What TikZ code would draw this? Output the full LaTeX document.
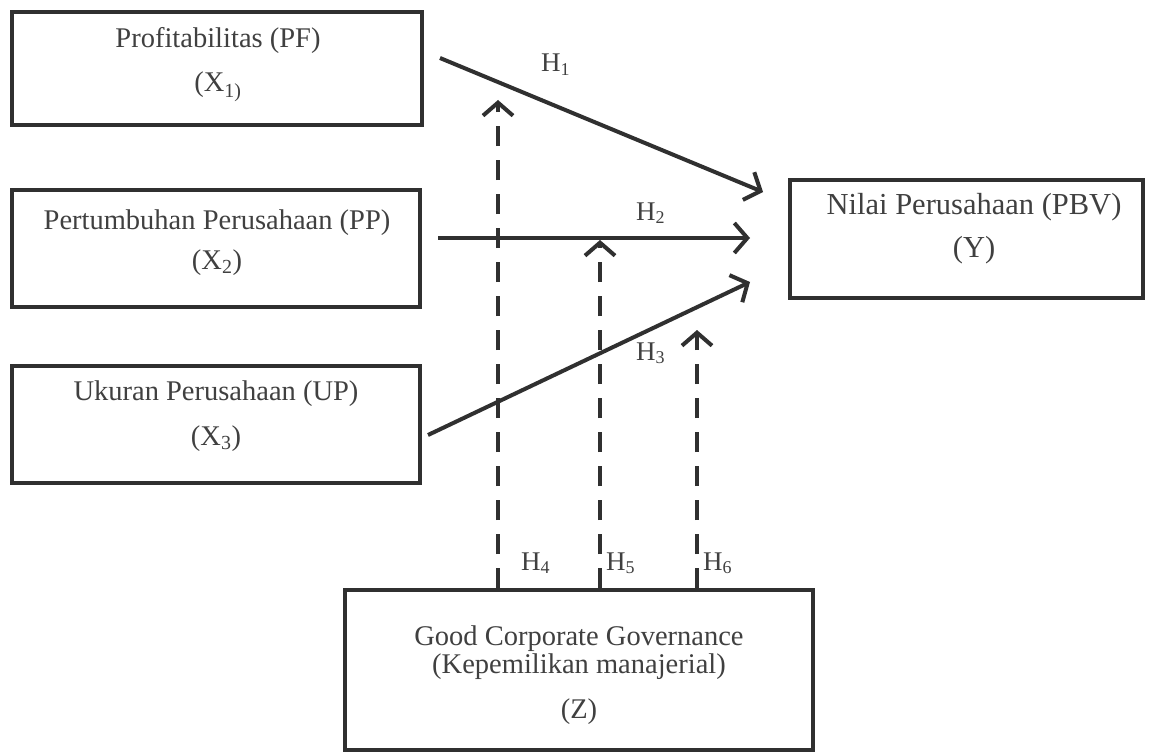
\documentclass[tikz,border=0pt]{standalone}
\usepackage{fontspec}
\setmainfont{Liberation Serif}
\usetikzlibrary{arrows.meta,calc}
\definecolor{ink}{HTML}{303030}
\definecolor{txt}{HTML}{404040}
\newcommand{\hsub}[1]{\raisebox{-3.5pt}{\fontsize{18}{20}\selectfont #1}}
\begin{document}
\begin{tikzpicture}[x=1pt,y=-1pt,
  box/.style={draw=ink, line width=3.8pt, inner sep=0pt},
  lbl/.style={anchor=base, text=txt, font=\fontsize{28.5}{32}\selectfont, inner sep=0pt},
  hl/.style={anchor=base west, text=txt, font=\fontsize{27}{30}\selectfont, inner sep=0pt},
  arr/.style={draw=ink, line width=4pt, -{Straight Barb[length=13pt,width=30pt]}},
  darr/.style={arr, dash pattern=on 20pt off 14pt}]
\useasboundingbox[fill=white] (0,0) rectangle (1150,754);

% boxes
\node[box, minimum width=410pt, minimum height=113pt] (pf) at (217,68.5) {};
\node[box, minimum width=408pt, minimum height=117pt] (pp) at (216,248.5) {};
\node[box, minimum width=408pt, minimum height=117pt] (up) at (216,424.5) {};
\node[box, minimum width=353pt, minimum height=118pt] (yb) at (966.5,239) {};
\node[box, minimum width=468pt, minimum height=160pt] (zb) at (579,670) {};

% box texts
\node[lbl] (pf1) at (218,48) {Profitabilitas (PF)};
\node[lbl] (pf2) at (218,92) {(X\textsubscript{1)}};
\node[lbl] (pp1) at (217,229) {Pertumbuhan Perusahaan (PP)};
\node[lbl] (pp2) at (217,269) {(X\textsubscript{2})};
\node[lbl] (up1) at (216,400) {Ukuran Perusahaan (UP)};
\node[lbl] (up2) at (216,445) {(X\textsubscript{3})};
\node[lbl, font=\fontsize{30.5}{34}\selectfont] (y1) at (974,214) {Nilai Perusahaan (PBV)};
\node[lbl, font=\fontsize{30.5}{34}\selectfont] (y2) at (974,257) {(Y)};
\node[lbl] (z1) at (579,645) {Good Corporate Governance};
\node[lbl] (z2) at (579,673) {(Kepemilikan manajerial)};
\node[lbl] (z3) at (579,718) {(Z)};

% connector end points
\coordinate (h1s) at (440,58);
\coordinate (h1e) at (763,192);
\coordinate (h2s) at (438,238);
\coordinate (h2e) at (750,238);
\coordinate (h3s) at (428,435);
\coordinate (h3e) at (750,282);
\coordinate (d4e) at (498,100);
\coordinate (d5e) at (600,240);
\coordinate (d6e) at (697,330);

% dashed moderation arrows
\draw[darr] (zb.north -| d4e) -- (d4e);
\draw[darr] (zb.north -| d5e) -- (d5e);
\draw[darr] (zb.north -| d6e) -- (d6e);

% direct arrows
\draw[arr] (h1s) -- (h1e);
\draw[arr] (h2s) -- (h2e);
\draw[arr] (h3s) -- (h3e);

% hypothesis labels
\node[hl] (H1) at (541,72) {H\hsub{1}};
\node[hl] (H2) at (636,220) {H\hsub{2}};
\node[hl] (H3) at (636,360) {H\hsub{3}};
\node[hl] (H4) at (521,570) {H\hsub{4}};
\node[hl] (H5) at (606,570) {H\hsub{5}};
\node[hl] (H6) at (703,570) {H\hsub{6}};
\end{tikzpicture}
\end{document}
